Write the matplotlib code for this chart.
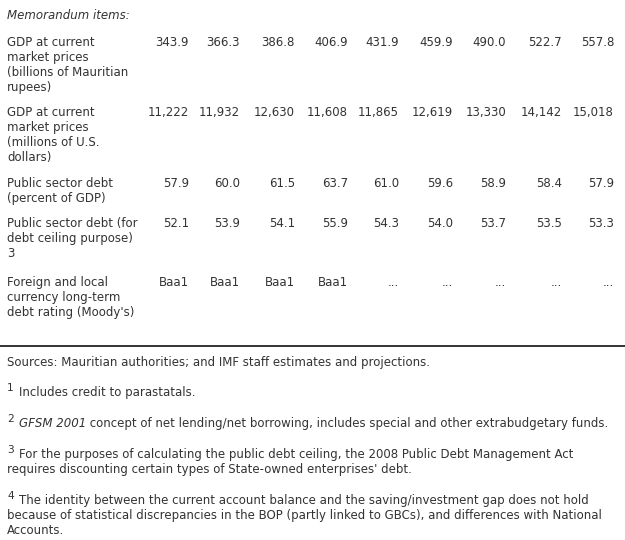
import matplotlib
matplotlib.use("Agg")
import matplotlib.pyplot as plt

# table values
gdp_rupees = [343.9, 366.3, 386.8, 406.9, 431.9, 459.9, 490.0, 522.7, 557.8]
gdp_usd = [11222, 11932, 12630, 11608, 11865, 12619, 13330, 14142, 15018]
debt_pct = [57.9, 60.0, 61.5, 63.7, 61.0, 59.6, 58.9, 58.4, 57.9]
debt_ceiling = [52.1, 53.9, 54.1, 55.9, 54.3, 54.0, 53.7, 53.5, 53.3]
ratings = ["Baa1", "Baa1", "Baa1", "Baa1", "...", "...", "...", "...", "..."]

row_labels = [
    ["GDP at current", "market prices", "(billions of Mauritian", "rupees)"],
    ["GDP at current", "market prices", "(millions of U.S.", "dollars)"],
    ["Public sector debt", "(percent of GDP)"],
    ["Public sector debt (for", "debt ceiling purpose)", "3"],
    ["Foreign and local", "currency long-term", "debt rating (Moody's)"],
]
row_cells = [
    [f"{v:.1f}" for v in gdp_rupees],
    [f"{v:,}" for v in gdp_usd],
    [f"{v:.1f}" for v in debt_pct],
    [f"{v:.1f}" for v in debt_ceiling],
    ratings,
]

sources = "Sources: Mauritian authorities; and IMF staff estimates and projections."
notes = [
    ("1", [("Includes credit to parastatals.", "normal")]),
    ("2", [("GFSM 2001", "italic"),
           (" concept of net lending/net borrowing, includes special and other extrabudgetary funds.", "normal")]),
    ("3", [("For the purposes of calculating the public debt ceiling, the 2008 Public Debt Management Act", "normal")],
     ["requires discounting certain types of State-owned enterprises' debt."]),
    ("4", [("The identity between the current account balance and the saving/investment gap does not hold", "normal")],
     ["because of statistical discrepancies in the BOP (partly linked to GBCs), and differences with National",
      "Accounts."]),
]

W, H = 625, 540
txt = "#333333"
fs = 8.5
plt.rcParams["font.family"] = ["DejaVu Sans"]

fig = plt.figure(figsize=(W / 100, H / 100), dpi=100)
ax = fig.add_axes([0, 0, 1, 1])
ax.set_xlim(0, W)
ax.set_ylim(H, 0)
ax.axis("off")

col_right = [189, 240, 295, 348, 399, 453, 506, 562, 614]
row_top = [46, 116, 187, 227, 286]
step = 15

ax.text(7, 19, "Memorandum items:", fontsize=fs, style="italic", color=txt, va="baseline")

for top, label, cells in zip(row_top, row_labels, row_cells):
    for i, line in enumerate(label):
        ax.text(7, top + i * step, line, fontsize=fs, color=txt, va="baseline")
    for x, c in zip(col_right, cells):
        ax.text(x, top, c, fontsize=fs, color=txt, va="baseline", ha="right")

ax.plot([0, W], [346, 346], color="#111111", lw=1.2)

ax.text(7, 366, sources, fontsize=fs, color=txt, va="baseline")

fig.canvas.draw()
renderer = fig.canvas.get_renderer()
inv = ax.transData.inverted()

y = 396
for note in notes:
    num, first = note[0], note[1]
    rest = note[2] if len(note) > 2 else []
    ax.text(7, y - 5, num, fontsize=fs * 0.9, color=txt, va="baseline")
    x = 19
    for chunk, style in first:
        t = ax.text(x, y, chunk, fontsize=fs, style=style, color=txt, va="baseline")
        bb = t.get_window_extent(renderer=renderer)
        x = inv.transform((bb.x1, bb.y0))[0]
    for j, line in enumerate(rest):
        ax.text(7, y + (j + 1) * step, line, fontsize=fs, color=txt, va="baseline")
    y += step * len(rest) + 31

fig.savefig("out.png", dpi=100)
